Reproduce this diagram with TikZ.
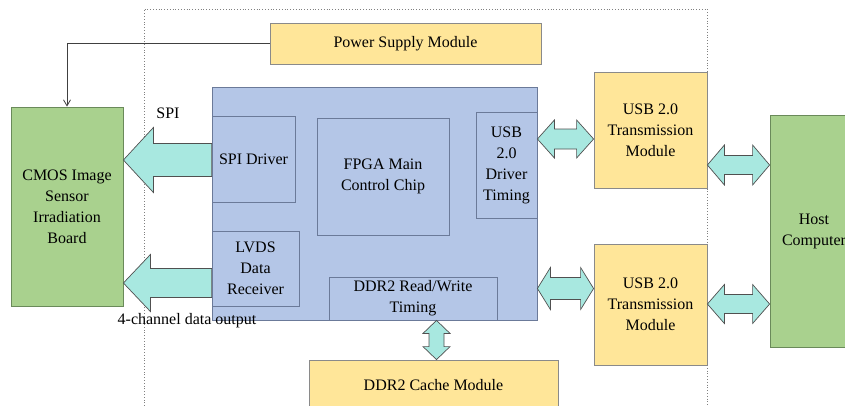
\documentclass[tikz,border=0pt]{standalone}
\usepackage{fontspec}
\setmainfont{Liberation Serif}
\usetikzlibrary{calc,arrows.meta}
\definecolor{bfill}{HTML}{B4C6E7}
\definecolor{bdraw}{HTML}{6B7A99}
\definecolor{yfill}{HTML}{FFE699}
\definecolor{ydraw}{HTML}{8A8A8A}
\definecolor{gfill}{HTML}{A9D18E}
\definecolor{gdraw}{HTML}{6A8A5A}
\definecolor{afill}{HTML}{A8E8E0}
\definecolor{adraw}{HTML}{505050}
\tikzset{
  lbl/.style={font=\fontsize{16}{21}\selectfont, align=center, inner sep=0pt},
  bbox/.style={lbl, draw=bdraw, fill=bfill, line width=0.8pt},
  ybox/.style={lbl, draw=ydraw, fill=yfill, line width=0.8pt},
  gbox/.style={lbl, draw=gdraw, fill=gfill, line width=0.8pt},
  barrow/.style={draw=adraw, fill=afill, line width=0.7pt, line join=miter},
  sz/.style 2 args={minimum width=#1pt, minimum height=#2pt},
}
% horizontal double arrow: left node, right node, y, head half, shaft half, head length
\newcommand\hdbl[6]{\path[barrow] let \p1=(#1.east), \p2=(#2.west) in
  (\x1,#3) -- (\x1+#6,#3-#4) -- (\x1+#6,#3-#5) -- (\x2-#6,#3-#5) -- (\x2-#6,#3-#4)
  -- (\x2,#3) -- (\x2-#6,#3+#4) -- (\x2-#6,#3+#5) -- (\x1+#6,#3+#5) -- (\x1+#6,#3+#4) -- cycle;}
% left single arrow: tip node (east), base node (west), y, head half, shaft half, head length
\newcommand\larr[6]{\path[barrow] let \p1=(#1.east), \p2=(#2.west) in
  (\x1,#3) -- (\x1+#6,#3-#4) -- (\x1+#6,#3-#5) -- (\x2,#3-#5) -- (\x2,#3+#5)
  -- (\x1+#6,#3+#5) -- (\x1+#6,#3+#4) -- cycle;}
% vertical double arrow: top node (south), bottom node (north), x, head half, shaft half, head length
\newcommand\vdbl[6]{\path[barrow] let \p1=(#1.south), \p2=(#2.north) in
  (#3,\y1) -- (#3+#4,\y1-#6) -- (#3+#5,\y1-#6) -- (#3+#5,\y2+#6) -- (#3+#4,\y2+#6)
  -- (#3,\y2) -- (#3-#4,\y2+#6) -- (#3-#5,\y2+#6) -- (#3-#5,\y1-#6) -- (#3-#4,\y1-#6) -- cycle;}
\begin{document}
\begin{tikzpicture}[x=1pt,y=-1pt]
\useasboundingbox (0,0) rectangle (845,405);
\clip (0,0) rectangle (845,405);
\fill[white] (0,0) rectangle (845,405);
% dotted enclosure
\draw[gray, dotted, line width=0.8pt] (144,420) -- (144,9) -- (707,9) -- (707,420);

\node[ybox, sz={271}{41}] (psm) at (405.5,43.5) {Power Supply Module};
\node[gbox, sz={112}{199}] (cmos) at (67,206.5) {CMOS Image\\Sensor\\Irradiation\\Board};
\node[bbox, sz={325}{233}] (fpga) at (374.5,203.5) {};
\node[bbox, sz={83}{86}] (spi) at (253.5,159) {SPI Driver};
\node[bbox, sz={87}{75}] (lvds) at (255.5,268.5) {LVDS\\Data\\Receiver};
\node[bbox, sz={132}{117}] (main) at (383,176.5) {FPGA Main\\Control Chip};
\node[bbox, sz={61}{106}] (usbt) at (506.5,165) {USB\\2.0\\Driver\\Timing};
\node[bbox, sz={168}{43}] (ddrt) at (413,298.5) {DDR2 Read/Write\\Timing};
\node[ybox, sz={249}{50}] (cache) at (433.5,385) {DDR2 Cache Module};
\node[ybox, sz={113}{116}] (usb1) at (650.5,130) {USB 2.0\\Transmission\\Module};
\node[ybox, sz={113}{121}] (usb2) at (650.5,304.5) {USB 2.0\\Transmission\\Module};
\node[gbox, sz={88}{232}] (host) at (814,231) {Host\\Computer};

% power line
\draw[draw=black!75, line width=0.8pt, -{Straight Barb[length=6pt,width=7pt]}] (psm.west) -| (cmos.north);

% block arrows
\larr{cmos}{spi}{160}{32.5}{16.5}{30}
\larr{cmos}{lvds}{283}{28.5}{14.5}{27}
\hdbl{fpga}{usb1}{139}{19}{10}{17}
\hdbl{fpga}{usb2}{288.5}{21}{11}{13}
\hdbl{usb1}{host}{165}{20}{9.5}{17}
\hdbl{usb2}{host}{304}{19.5}{9.5}{17}
\vdbl{ddrt}{cache}{436.5}{13.5}{7.5}{13}

% labels
\node[lbl] (spilbl) at (168,113) {SPI};
\node[lbl] (chlbl) at (187,321) {4-channel data output};
\end{tikzpicture}
\end{document}
